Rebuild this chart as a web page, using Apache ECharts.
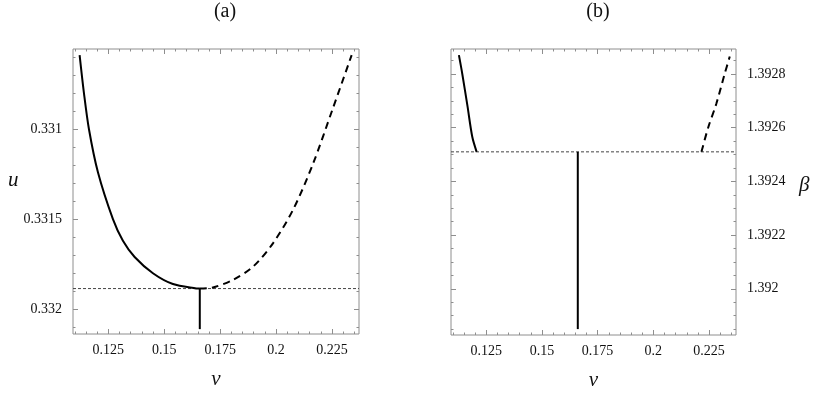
<!DOCTYPE html>
<html>
<head>
<meta charset="utf-8">
<script src="https://cdn.jsdelivr.net/npm/echarts@6/dist/echarts.min.js"></script>
<style>
html,body{margin:0;padding:0;background:#fff;}
#chart{width:817px;height:396px;}
</style>
</head>
<body>
<div id="chart"></div>
<script>
// ---- data ----
const nuRange = [0.1092, 0.2371];
const uRange = [0.330556, 0.332137];
const betaRange = [1.391828, 1.392893];

const nuTicks = [0.125, 0.15, 0.175, 0.2, 0.225];
const nuMinor = [0.11, 0.115, 0.12, 0.13, 0.135, 0.14, 0.145, 0.155, 0.16, 0.165, 0.17, 0.18, 0.185, 0.19, 0.195, 0.205, 0.21, 0.215, 0.22, 0.23, 0.235];
const uTicks = [0.331, 0.3315, 0.332];
const uMinor = [0.3306, 0.3307, 0.3308, 0.3309, 0.3311, 0.3312, 0.3313, 0.3314, 0.3316, 0.3317, 0.3318, 0.3319, 0.3321];
const betaTicks = [1.392, 1.3922, 1.3924, 1.3926, 1.3928];
const betaMinor = [1.39185, 1.3919, 1.39195, 1.39205, 1.3921, 1.39215, 1.39225, 1.3923, 1.39235, 1.39245, 1.3925, 1.39255, 1.39265, 1.3927, 1.39275, 1.39285];

// panel (a): u(nu)
const uStable = [
  [0.11216, 0.33059], [0.11404, 0.330795], [0.11632, 0.33100], [0.12035, 0.33124],
  [0.12706, 0.33150], [0.13153, 0.33162], [0.13676, 0.33171], [0.14495, 0.33180],
  [0.15389, 0.33186], [0.16436, 0.331884], [0.1659, 0.331885]
];
const uUnstable = [
  [0.1659, 0.331885], [0.17178, 0.331879], [0.18072, 0.331837], [0.18967, 0.331764],
  [0.19861, 0.331634], [0.20756, 0.331449], [0.21650, 0.331194], [0.22545, 0.330884],
  [0.23381, 0.330590]
];
const uCritical = 0.331885;
const uVertical = [[0.1659, 0.331885], [0.1659, 0.33211]];

// panel (b): beta(nu)
const betaStable = [
  [0.11275, 1.39287], [0.11427, 1.39280], [0.1166, 1.39268], [0.11874, 1.392566], [0.1207, 1.39251]
];
const betaUnstable = [
  [0.2216, 1.39251], [0.2246, 1.39260], [0.2283, 1.39269], [0.2320, 1.39280], [0.2343, 1.392865]
];
const betaCritical = 1.39251;
const betaVertical = [[0.1661, 1.39251], [0.1661, 1.39185]];

// ---- styling helpers ----
const frameColor = '#8e8e8e';
const serif = "'Liberation Serif', 'DejaVu Serif', serif";
const grids = [
  {left: 73, top: 49, width: 286, height: 285, show: true, borderColor: frameColor, borderWidth: 1, backgroundColor: 'transparent'},
  {left: 451, top: 49, width: 285, height: 286, show: true, borderColor: frameColor, borderWidth: 1, backgroundColor: 'transparent'}
];

function xAxisSet(gi, name) {
  const base = {type: 'value', gridIndex: gi, min: nuRange[0], max: nuRange[1],
    axisLine: {show: false}, splitLine: {show: false}};
  return [
    Object.assign({}, base, {position: 'bottom', name: name, nameLocation: 'middle', nameGap: 35,
      nameTextStyle: {fontFamily: serif, fontStyle: 'italic', fontSize: 21, color: '#111'},
      axisLabel: {customValues: nuTicks, fontFamily: serif, fontSize: 14, color: '#111', margin: 9},
      axisTick: {customValues: nuTicks, inside: true, length: 5, lineStyle: {color: frameColor}}}),
    Object.assign({}, base, {position: 'bottom', axisLabel: {show: false},
      axisTick: {customValues: nuMinor, inside: true, length: 2.5, lineStyle: {color: frameColor}}}),
    Object.assign({}, base, {position: 'top', axisLabel: {show: false},
      axisTick: {customValues: nuTicks, inside: true, length: 5, lineStyle: {color: frameColor}}}),
    Object.assign({}, base, {position: 'top', axisLabel: {show: false},
      axisTick: {customValues: nuMinor, inside: true, length: 2.5, lineStyle: {color: frameColor}}})
  ];
}

function yAxisSet(gi, range, ticks, minor, inverse, labelSide, name, nameGap, nameLH) {
  const base = {type: 'value', gridIndex: gi, min: range[0], max: range[1], inverse: inverse,
    axisLine: {show: false}, splitLine: {show: false}};
  const other = labelSide === 'left' ? 'right' : 'left';
  return [
    Object.assign({}, base, {position: labelSide, name: name, nameLocation: 'middle', nameGap: nameGap, nameRotate: 0,
      nameTextStyle: {fontFamily: serif, fontStyle: 'italic', fontSize: 21, color: '#111',
        verticalAlign: 'bottom', lineHeight: nameLH},
      axisLabel: {customValues: ticks, fontFamily: serif, fontSize: 14, color: '#111', margin: 11},
      axisTick: {customValues: ticks, inside: true, length: 5, lineStyle: {color: frameColor}}}),
    Object.assign({}, base, {position: labelSide, axisLabel: {show: false},
      axisTick: {customValues: minor, inside: true, length: 2.5, lineStyle: {color: frameColor}}}),
    Object.assign({}, base, {position: other, axisLabel: {show: false},
      axisTick: {customValues: ticks, inside: true, length: 5, lineStyle: {color: frameColor}}}),
    Object.assign({}, base, {position: other, axisLabel: {show: false},
      axisTick: {customValues: minor, inside: true, length: 2.5, lineStyle: {color: frameColor}}})
  ];
}

const xAxes = xAxisSet(0, 'ν').concat(xAxisSet(1, 'ν'));
const yAxes = yAxisSet(0, uRange, uTicks, uMinor, true, 'left', 'u', 52, 22)
  .concat(yAxisSet(1, betaRange, betaTicks, betaMinor, false, 'right', 'β', 63, 14));

function line(data, xi, yi, dashed, smooth) {
  return {type: 'line', xAxisIndex: xi, yAxisIndex: yi, data: data, showSymbol: false,
    smooth: smooth, silent: true, animation: false,
    lineStyle: {color: '#000', width: 2, type: dashed ? [7, 5] : 'solid'}};
}
function hline(value, xi, yi) {
  return {type: 'line', xAxisIndex: xi, yAxisIndex: yi, silent: true, animation: false, showSymbol: false,
    data: [[nuRange[0], value], [nuRange[1], value]],
    lineStyle: {color: '#444', width: 1, type: [3, 2]}};
}

const option = {
  backgroundColor: '#fff',
  animation: false,
  title: [
    {text: '(a)', left: 220, top: -3, textAlign: 'center', textStyle: {fontFamily: serif, fontSize: 20, fontWeight: 'normal', color: '#111'}},
    {text: '(b)', left: 593, top: -3, textAlign: 'center', textStyle: {fontFamily: serif, fontSize: 20, fontWeight: 'normal', color: '#111'}}
  ],
  grid: grids,
  xAxis: xAxes,
  yAxis: yAxes,
  series: [
    hline(uCritical, 0, 0),
    line(uStable, 0, 0, false, 0.3),
    line(uUnstable, 0, 0, true, 0.3),
    line(uVertical, 0, 0, false, false),
    hline(betaCritical, 4, 4),
    line(betaStable, 4, 4, false, 0.3),
    line(betaUnstable, 4, 4, true, 0.3),
    line(betaVertical, 4, 4, false, false)
  ]
};

const chart = echarts.init(document.getElementById('chart'), null, {renderer: 'canvas'});
chart.setOption(option);
</script>
</body>
</html>
